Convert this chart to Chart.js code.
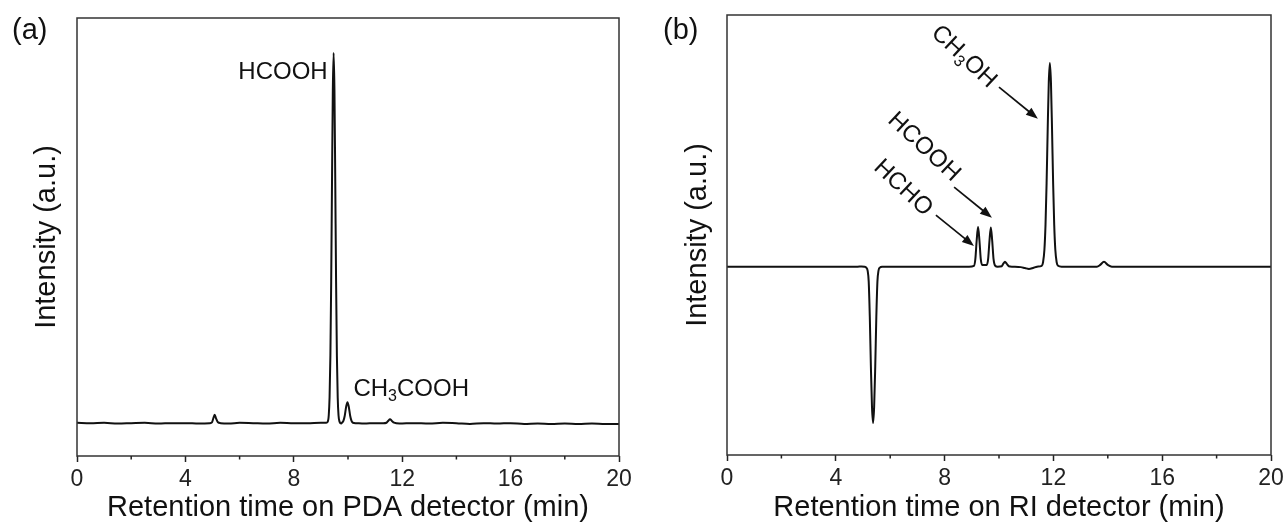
<!DOCTYPE html>
<html>
<head>
<meta charset="utf-8">
<script src="https://cdn.jsdelivr.net/npm/chart.js@4"></script>
<style>
  html, body { margin: 0; background: #fff; }
  #wrap { display: flex; width: 1288px; height: 522px; }
  canvas { display: block; }
</style>
</head>
<body>
<div id="wrap">
  <canvas id="panelA" width="644" height="522"></canvas>
  <canvas id="panelB" width="644" height="522"></canvas>
</div>
<script>
// Retention time axis, shared by both panels (min)
const majorTicks = [0, 4, 8, 12, 16, 20];
const minorTicks = [2, 6, 10, 14, 18];

// (a) PDA detector trace (arbitrary intensity 0-100)
const timeA = [
  0, 0.5, 1.0, 1.5, 2.0, 2.5, 3.0, 3.5, 4.0, 4.5, 4.9,
  4.98, 5.03, 5.08, 5.13, 5.2, 5.3, 5.6, 6.0, 6.5, 7.0, 7.5, 8.0, 8.5, 9.0, 9.2,
  9.25, 9.29, 9.32, 9.35, 9.38, 9.41, 9.44, 9.47, 9.50, 9.53, 9.56, 9.59, 9.62, 9.65, 9.69,
  9.75, 9.78, 9.83, 9.88, 9.93, 9.98, 10.03, 10.08, 10.13, 10.18, 10.3, 10.6,
  11.0, 11.3, 11.42, 11.48, 11.55, 11.62, 11.7, 11.9, 12.4, 13.0, 13.5, 14.0,
  14.5, 15.0, 15.5, 16.0, 16.5, 17.0, 17.5, 18.0, 18.5, 19.0, 19.5, 20.0
];
const signalA = [
  7.6, 7.5, 7.6, 7.4, 7.5, 7.6, 7.4, 7.5, 7.5, 7.4, 7.5,
  7.7, 8.6, 9.4, 8.6, 7.7, 7.5, 7.4, 7.6, 7.5, 7.4, 7.6, 7.5, 7.5, 7.6, 7.6,
  7.8, 9.3, 13.4, 22.9, 39.9, 62.7, 83.5, 92.0, 83.5, 62.7, 39.9, 22.9, 13.4, 9.3, 7.8,
  7.4, 7.6, 8.0, 9.2, 11.2, 12.3, 11.2, 9.2, 8.0, 7.6, 7.5, 7.4,
  7.5, 7.5, 7.6, 8.0, 8.4, 8.0, 7.6, 7.4, 7.5, 7.4, 7.6, 7.5,
  7.3, 7.5, 7.4, 7.5, 7.3, 7.4, 7.3, 7.4, 7.3, 7.4, 7.3, 7.3
];

// (b) RI detector trace
const timeB = [
  0, 1, 2, 3, 4, 4.8, 4.95, 5.05,
  5.12, 5.17, 5.21, 5.25, 5.29, 5.33, 5.37, 5.41, 5.45, 5.49, 5.53, 5.57, 5.62, 5.7,
  6.5, 7.5, 8.5, 8.9, 9.08, 9.13, 9.18, 9.23, 9.28, 9.33, 9.38, 9.465, 9.55,
  9.6, 9.65, 9.70, 9.75, 9.80, 9.86, 9.95, 10.1, 10.16, 10.22, 10.28, 10.36, 10.5,
  10.8, 10.95, 11.1, 11.25, 11.4, 11.57, 11.62, 11.67, 11.71, 11.75, 11.79, 11.83, 11.87,
  11.91, 11.95, 11.99, 12.03, 12.07, 12.12, 12.17, 12.3, 13.0, 13.6, 13.72, 13.86, 14.0,
  14.15, 15, 16, 17, 18, 19, 20
];
const signalB = [
  42.8, 42.8, 42.8, 42.8, 42.8, 42.8, 42.85, 42.8,
  42.6, 41.9, 39.4, 31.4, 20.1, 11.0, 7.3, 11.0, 20.1, 31.4, 39.4, 41.9, 42.6, 42.8,
  42.8, 42.8, 42.8, 42.8, 43.0, 44.5, 48.8, 51.8, 48.8, 44.5, 43.2, 43.2, 43.2,
  44.5, 48.7, 51.7, 48.7, 44.5, 43.0, 42.8, 42.9, 43.5, 43.9, 43.5, 42.9, 42.8,
  42.7, 42.5, 42.3, 42.5, 42.8, 43.0, 43.8, 46.7, 52.3, 61.8, 74.0, 84.7, 89.1,
  84.7, 74.0, 61.8, 52.3, 46.7, 43.8, 43.0, 42.8, 42.8, 42.8, 43.2, 43.9, 43.2,
  42.8, 42.8, 42.8, 42.8, 42.8, 42.8, 42.8
];

const FONT = '"Liberation Sans", Arial, sans-serif';
Chart.defaults.font.family = FONT;
Chart.defaults.color = '#222';

// frame, minor ticks, peak labels and arrows
const notesPlugin = {
  id: 'notes',
  afterDraw(chart, args, o) {
    const { ctx, chartArea: ca, scales: { x, y } } = chart;
    ctx.save();
    ctx.strokeStyle = '#333';
    ctx.lineWidth = 1.5;
    ctx.strokeRect(ca.left, ca.top, ca.right - ca.left, ca.bottom - ca.top);

    ctx.strokeStyle = '#222';
    ctx.beginPath();
    for (const v of minorTicks) {
      const px = x.getPixelForValue(v);
      ctx.moveTo(px, ca.bottom);
      ctx.lineTo(px, ca.bottom + 3.5);
    }
    ctx.stroke();

    ctx.fillStyle = '#111';
    ctx.strokeStyle = '#111';
    for (const a of o.arrows || []) {
      const x1 = x.getPixelForValue(a.from[0]), y1 = y.getPixelForValue(a.from[1]);
      const x2 = x.getPixelForValue(a.to[0]), y2 = y.getPixelForValue(a.to[1]);
      const ang = Math.atan2(y2 - y1, x2 - x1);
      const c = Math.cos(ang), s = Math.sin(ang), head = 12, half = 4.5;
      ctx.lineWidth = 1.7;
      ctx.beginPath();
      ctx.moveTo(x1, y1);
      ctx.lineTo(x2 - head * 0.8 * c, y2 - head * 0.8 * s);
      ctx.stroke();
      ctx.beginPath();
      ctx.moveTo(x2, y2);
      ctx.lineTo(x2 - head * c + half * s, y2 - head * s - half * c);
      ctx.lineTo(x2 - head * c - half * s, y2 - head * s + half * c);
      ctx.closePath();
      ctx.fill();
    }

    const big = '24px ' + FONT, small = '16px ' + FONT;
    ctx.textBaseline = 'middle';
    for (const l of o.labels || []) {
      const px = x.getPixelForValue(l.at[0]), py = y.getPixelForValue(l.at[1]);
      ctx.save();
      ctx.translate(px, py);
      ctx.rotate((l.angle || 0) * Math.PI / 180);
      let w = 0;
      for (const [t, sub] of l.parts) { ctx.font = sub ? small : big; w += ctx.measureText(t).width; }
      let cx = l.align === 'right' ? -w : l.align === 'center' ? -w / 2 : 0;
      for (const [t, sub] of l.parts) {
        ctx.font = sub ? small : big;
        ctx.fillText(t, cx, sub ? 7 : 0);
        cx += ctx.measureText(t).width;
      }
      ctx.restore();
    }

    ctx.font = '29px ' + FONT;
    ctx.textAlign = 'left';
    ctx.fillText(o.panel, o.panelX, 31);
    ctx.restore();
  }
};

function makeChart(canvasId, times, signal, s) {
  return new Chart(document.getElementById(canvasId), {
    type: 'line',
    data: {
      datasets: [{
        data: times.map((t, i) => ({ x: t, y: signal[i] })),
        borderColor: '#111',
        borderWidth: 2,
        pointRadius: 0,
        cubicInterpolationMode: 'monotone',
        fill: false,
      }],
    },
    options: {
      responsive: false,
      animation: false,
      events: [],
      layout: { padding: { top: s.padTop, right: s.padRight, left: 0, bottom: 0 } },
      plugins: { legend: { display: false }, tooltip: { enabled: false }, notes: s.notes },
      scales: {
        x: {
          type: 'linear', min: 0, max: 20,
          afterBuildTicks: (sc) => { sc.ticks = majorTicks.map((v) => ({ value: v })); },
          afterFit: (sc) => { sc.height = s.xHeight; },
          ticks: { autoSkip: false, maxRotation: 0, padding: 4, font: { size: 23 }, color: '#222' },
          grid: { drawOnChartArea: false, tickLength: 6, tickWidth: 1.5, tickColor: '#222' },
          border: { display: false },
          title: { display: true, text: s.xTitle, color: '#111', font: { size: 29, lineHeight: 1 }, padding: { top: 0, bottom: 0 } },
        },
        y: {
          min: 0, max: 100,
          afterFit: (sc) => { sc.width = s.yWidth; },
          ticks: { display: false },
          grid: { display: false },
          border: { display: false },
          title: { display: true, text: 'Intensity (a.u.)', color: '#111', font: { size: 29, lineHeight: 1.2 }, padding: { top: s.yTitlePad, bottom: 0 } },
        },
      },
    },
    plugins: [notesPlugin],
  });
}

makeChart('panelA', timeA, signalA, {
  padTop: 18, padRight: 25, yWidth: 77, xHeight: 66, yTitlePad: 30,
  xTitle: 'Retention time on PDA detector (min)',
  notes: {
    panel: '(a)', panelX: 12,
    labels: [
      { parts: [['HCOOH', 0]], at: [9.25, 87.6], align: 'right' },
      { parts: [['CH', 0], ['3', 1], ['COOH', 0]], at: [10.2, 15.1], align: 'left' },
    ],
    arrows: [],
  },
});

makeChart('panelB', timeB, signalB, {
  padTop: 15, padRight: 17, yWidth: 83, xHeight: 67, yTitlePad: 37,
  xTitle: 'Retention time on RI detector (min)',
  notes: {
    panel: '(b)', panelX: 19,
    labels: [
      { parts: [['CH', 0], ['3', 1], ['OH', 0]], at: [8.71, 90.5], align: 'center', angle: 43 },
      { parts: [['HCOOH', 0]], at: [7.24, 70.0], align: 'center', angle: 43 },
      { parts: [['HCHO', 0]], at: [6.47, 60.7], align: 'center', angle: 43 },
    ],
    arrows: [
      { from: [10.0, 83.6], to: [11.43, 76.4] },
      { from: [8.35, 60.9], to: [9.74, 53.9] },
      { from: [7.68, 54.5], to: [9.08, 47.5] },
    ],
  },
});
</script>
</body>
</html>
